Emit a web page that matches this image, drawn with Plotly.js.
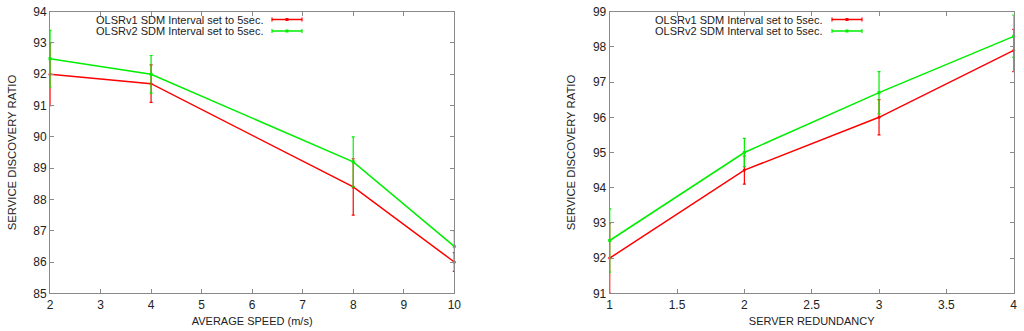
<!DOCTYPE html>
<html>
<head>
<meta charset="utf-8">
<script src="https://cdn.plot.ly/plotly-3.0.1.min.js"></script>
<style>html,body{margin:0;padding:0;background:#fff;}#chart{width:1024px;height:331px;}</style>
</head>
<body>
<div id="chart"></div>
<script>
// Left chart: average speed
const speedX = [2, 4, 8, 10];
const speedV1 = [92.0, 91.7, 88.4, 86.0];
const speedV1Err = [1.0, 0.6, 0.9, 0.3];
const speedV2 = [92.5, 92.0, 89.2, 86.5];
const speedV2Err = [0.9, 0.6, 0.8, 0.5];

// Right chart: server redundancy
const redX = [1, 2, 3, 4];
const redV1 = [92.0, 94.5, 96.0, 97.9];
const redV1Err = [1.0, 0.4, 0.5, 0.6];
const redV2 = [92.5, 95.0, 96.7, 98.3];
const redV2Err = [0.9, 0.4, 0.6, 0.6];

const seriesNames = ["OLSRv1 SDM Interval set to 5sec.", "OLSRv2 SDM Interval set to 5sec."];
const colors = ["#ff0000", "#00ee00"];
const yTitle = "SERVICE DISCOVERY RATIO";
const xTitles = ["AVERAGE SPEED (m/s)", "SERVER REDUNDANCY"];

const FONT = "Liberation Sans, Arial, sans-serif";

function tr(x, y, e, c, xa, ya, sym) {
  return {
    x: x, y: y, type: "scatter", mode: "lines+markers",
    xaxis: xa, yaxis: ya, showlegend: false, cliponaxis: false,
    line: {color: c, width: 1.5},
    marker: {color: c, size: 3, symbol: sym},
    error_y: {type: "data", array: e, visible: true, color: c, thickness: 1.2, width: 1.5}
  };
}

const data = [
  tr(speedX, speedV1, speedV1Err, colors[0], "x", "y", "circle"),
  tr(speedX, speedV2, speedV2Err, colors[1], "x", "y", "square"),
  tr(redX, redV1, redV1Err, colors[0], "x2", "y2", "circle"),
  tr(redX, redV2, redV2Err, colors[1], "x2", "y2", "square")
];

const W = 1024, H = 331;
const yDom = [(H - 293.3) / H, (H - 11.7) / H];
const xDom1 = [50 / W, 454.3 / W];
const xDom2 = [609.7 / W, 1013.7 / W];

function axisBase() {
  return {
    showgrid: false, zeroline: false, showline: true, linecolor: "#8a8a8a", linewidth: 1,
    mirror: "ticks", ticks: "inside", ticklen: 4, tickcolor: "#8a8a8a", tickwidth: 1,
    tickfont: {family: FONT, size: 12, color: "#222"}
  };
}

const layout = {
  width: W, height: H,
  margin: {l: 0, r: 0, t: 0, b: 0},
  paper_bgcolor: "#fff", plot_bgcolor: "#fff",
  showlegend: false,
  xaxis: Object.assign(axisBase(), {domain: xDom1, range: [2, 10], dtick: 1, tick0: 2, anchor: "y",
    title: {text: xTitles[0], font: {family: FONT, size: 11, color: "#222"}, standoff: 6}}),
  yaxis: Object.assign(axisBase(), {domain: yDom, range: [85, 94], dtick: 1, anchor: "x",
    title: {text: yTitle, font: {family: FONT, size: 11.3, color: "#222"}, standoff: 14}}),
  xaxis2: Object.assign(axisBase(), {domain: xDom2, range: [1, 4], dtick: 0.5, tick0: 1, anchor: "y2",
    title: {text: xTitles[1], font: {family: FONT, size: 11, color: "#222"}, standoff: 6}}),
  yaxis2: Object.assign(axisBase(), {domain: yDom, range: [91, 99], dtick: 1, anchor: "x2",
    title: {text: yTitle, font: {family: FONT, size: 11.3, color: "#222"}, standoff: 14}}),
  annotations: [],
  shapes: []
};

// gnuplot-style key: text right-aligned, then sample line with error caps
const keys = [
  {textRight: 266, lineX0: 272, lineX1: 302},
  {textRight: 825, lineX0: 832, lineX1: 862}
];
const keyY = [19.5, 31];
keys.forEach(k => {
  for (let i = 0; i < 2; i++) {
    const yp = (H - keyY[i]) / H;
    layout.annotations.push({
      xref: "paper", yref: "paper", x: k.textRight / W, y: yp, xanchor: "right", yanchor: "middle",
      text: seriesNames[i], showarrow: false, font: {family: FONT, size: 11, color: "#222"}
    });
    layout.shapes.push({type: "line", xref: "paper", yref: "paper",
      x0: k.lineX0 / W, x1: k.lineX1 / W, y0: yp, y1: yp, line: {color: colors[i], width: 1.5}});
    [k.lineX0, k.lineX1].forEach(px => {
      layout.shapes.push({type: "line", xref: "paper", yref: "paper",
        x0: px / W, x1: px / W, y0: yp - 2 / H, y1: yp + 2 / H, line: {color: colors[i], width: 1.2}});
    });
    const mid = (k.lineX0 + k.lineX1) / 2;
    layout.shapes.push({type: "rect", xref: "paper", yref: "paper",
      x0: (mid - 1.5) / W, x1: (mid + 1.5) / W, y0: yp - 1.5 / H, y1: yp + 1.5 / H,
      line: {width: 0}, fillcolor: colors[i]});
  }
});

Plotly.newPlot("chart", data, layout, {displayModeBar: false, staticPlot: true});
</script>
</body>
</html>
